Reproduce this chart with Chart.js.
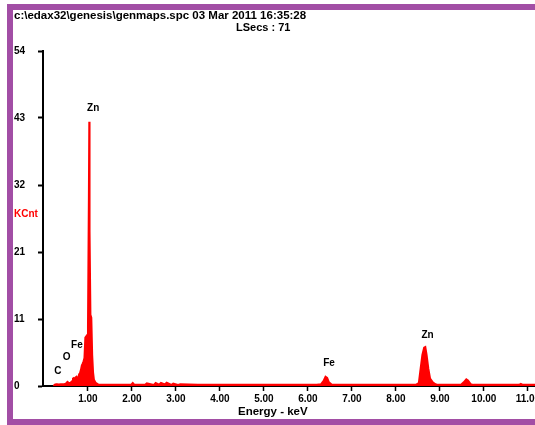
<!DOCTYPE html>
<html>
<head>
<meta charset="utf-8">
<script src="https://cdn.jsdelivr.net/npm/chart.js@4/dist/chart.umd.min.js"></script>
<style>
  html, body { margin: 0; padding: 0; background: #fff; overflow: hidden; width: 535px; height: 425px; }
  #wrap { position: absolute; left: 0; top: 0; width: 560px; height: 425px; }
  .txt { position: absolute; font: bold 10px "Liberation Sans", Arial, sans-serif; color: #000; white-space: nowrap; line-height: 12px; }
  .bar { position: absolute; background: #a24ea5; pointer-events: none; }
</style>
</head>
<body>
<div id="wrap"><canvas id="spectrum" width="560" height="425"></canvas></div>
<div class="txt" style="left:14px; top:9px; font-size:11.5px;">c:\edax32\genesis\genmaps.spc  03 Mar 2011 16:35:28</div>
<div class="txt" style="left:236px; top:21px; font-size:11px;">LSecs : 71</div>
<div class="txt" style="left:14px; top:208px; color:#ff0000;">KCnt</div>
<div class="txt" style="left:238px; top:405px; font-size:11.5px;">Energy - keV</div>
<div class="bar" style="left:7px; top:4px; width:528px; height:6px;"></div>
<div class="bar" style="left:7px; top:4px; width:6px; height:421px;"></div>
<div class="bar" style="left:7px; top:419px; width:528px; height:6px;"></div>
<script>
// spectrum (energy in keV, counts in kCnt)
const energies = [0.22, 0.24, 0.26, 0.28, 0.30, 0.34, 0.38, 0.42, 0.46, 0.50, 0.52, 0.54, 0.56, 0.60,
  0.64, 0.66, 0.68, 0.70, 0.72, 0.74, 0.76, 0.78, 0.80, 0.82, 0.84, 0.86, 0.88, 0.90, 0.92, 0.94,
  0.96, 0.98, 1.00, 1.02, 1.03, 1.04, 1.06, 1.08, 1.10, 1.12, 1.14, 1.18, 1.24,
  1.50, 1.80, 1.98, 2.02, 2.06, 2.30, 2.34, 2.50, 2.54, 2.62, 2.66, 2.75, 2.79, 2.90, 2.94, 3.05, 3.10,
  3.50, 4.00, 4.50, 5.00, 5.50, 6.00, 6.20, 6.30, 6.36, 6.40, 6.44, 6.48, 6.54,
  7.00, 7.50, 8.00, 8.45, 8.52, 8.56, 8.60, 8.64, 8.67, 8.70, 8.74, 8.78, 8.84, 8.90, 8.96,
  9.20, 9.48, 9.54, 9.60, 9.64, 9.70, 9.76, 10.00, 10.50, 10.80, 10.84, 10.88, 11.20, 11.80];
const counts = [0, 0.2, 0.25, 0.3, 0.3, 0.25, 0.3, 0.3, 0.3, 0.4, 0.6, 0.7, 0.5, 0.5,
  0.8, 1.2, 1.3, 1.1, 1.4, 1.5, 1.2, 1.4, 1.9, 2.1, 2.6, 3.3, 3.6, 4.0, 4.5, 7.8,
  8.0, 4.5, 9.5, 30, 42.6, 25, 11.5, 11.0, 5, 2.2, 1.0, 0.5, 0.25,
  0.2, 0.2, 0.2, 0.5, 0.2, 0.2, 0.45, 0.2, 0.5, 0.25, 0.5, 0.25, 0.55, 0.2, 0.4, 0.2, 0.3,
  0.2, 0.2, 0.2, 0.2, 0.2, 0.2, 0.2, 0.3, 0.9, 1.5, 1.3, 0.6, 0.25,
  0.2, 0.2, 0.2, 0.2, 0.5, 2.8, 5.0, 6.2, 6.3, 5.0, 2.8, 1.2, 0.6, 0.3, 0.2,
  0.2, 0.2, 0.6, 1.1, 0.9, 0.3, 0.2, 0.2, 0.2, 0.2, 0.35, 0.2, 0.2, 0.2];

// axis ticks
const xTickValues = [1, 2, 3, 4, 5, 6, 7, 8, 9, 10, 11];
const xTickLabels = ["1.00", "2.00", "3.00", "4.00", "5.00", "6.00", "7.00", "8.00", "9.00", "10.00", "11.00"];
const yTickValues = [0, 10.8, 21.6, 32.4, 43.2, 54];
const yTickLabels = ["0", "11", "21", "32", "43", "54"];

// peak identifications (energy, label height in kCnt)
const peakNames = ["C", "O", "Fe", "Zn", "Fe", "Zn"];
const peakEnergies = [0.32, 0.52, 0.75, 1.12, 6.48, 8.72];
const peakLabelLevels = [2.4, 4.7, 6.6, 44.8, 3.7, 8.2];

const peakLabels = {
  id: "peakLabels",
  afterDatasetsDraw(chart) {
    const ctx = chart.ctx;
    const xs = chart.scales.x, ys = chart.scales.y;
    ctx.save();
    ctx.font = "bold 10px 'Liberation Sans', Arial, sans-serif";
    ctx.fillStyle = "#000";
    ctx.textAlign = "center";
    ctx.textBaseline = "middle";
    peakNames.forEach((n, i) => {
      ctx.fillText(n, xs.getPixelForValue(peakEnergies[i]), ys.getPixelForValue(peakLabelLevels[i]));
    });
    ctx.restore();
  }
};

const tickFont = { family: "'Liberation Sans', Arial, sans-serif", size: 10, weight: "bold" };

new Chart(document.getElementById("spectrum"), {
  type: "line",
  data: {
    datasets: [{
      data: energies.map((e, i) => ({ x: e, y: counts[i] })),
      borderColor: "#ff0000",
      backgroundColor: "#ff0000",
      borderWidth: 1.8,
      pointRadius: 0,
      fill: "origin",
      tension: 0
    }]
  },
  options: {
    responsive: false,
    animation: false,
    layout: { padding: { left: 14, top: 51, right: 0, bottom: 0 } },
    plugins: { legend: { display: false }, tooltip: { enabled: false } },
    scales: {
      x: {
        type: "linear",
        min: -0.02,
        max: 11.73,
        afterBuildTicks: s => { s.ticks = xTickValues.map(v => ({ value: v })); },
        afterFit: s => { s.height = 39; },
        ticks: {
          autoSkip: false,
          maxRotation: 0,
          color: "#000",
          font: tickFont,
          padding: 2,
          callback: (v) => xTickLabels[xTickValues.indexOf(v)]
        },
        grid: { drawOnChartArea: false, color: "#000", tickColor: "#000", tickLength: 5, tickWidth: 1.5 },
        border: { color: "#000", width: 2 }
      },
      y: {
        min: 0,
        max: 54,
        afterBuildTicks: s => { s.ticks = yTickValues.map(v => ({ value: v })); },
        afterFit: s => { s.width = 29; },
        ticks: {
          autoSkip: false,
          crossAlign: "far",
          color: "#000",
          font: tickFont,
          callback: (v) => yTickLabels[yTickValues.indexOf(v)]
        },
        grid: { drawOnChartArea: false, color: "#000", tickColor: "#000", tickLength: 5, tickWidth: 2 },
        border: { color: "#000", width: 2 }
      }
    }
  },
  plugins: [peakLabels]
});
</script>
</body>
</html>
